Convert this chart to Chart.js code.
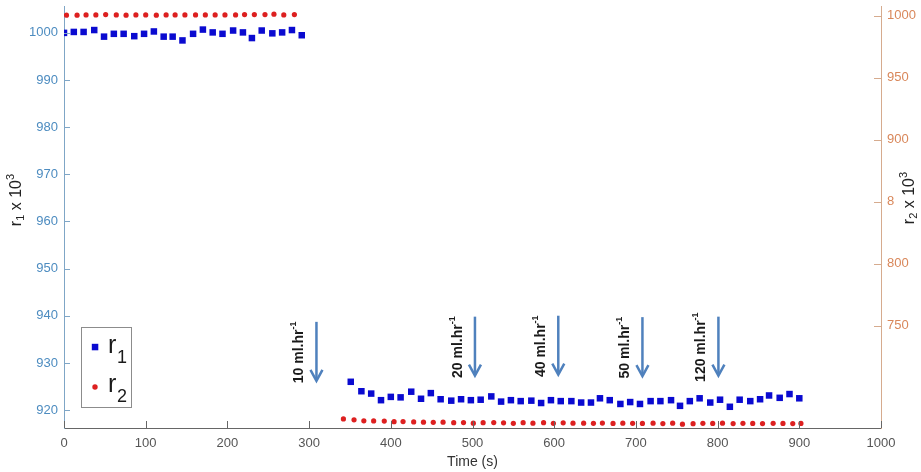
<!DOCTYPE html>
<html><head><meta charset="utf-8">
<script src="https://cdn.jsdelivr.net/npm/chart.js@4"></script>
<style>html,body{margin:0;padding:0;background:#fff;overflow:hidden}</style>
</head><body>
<canvas id="c" width="921" height="472"></canvas>
<script>
// ---- data ----
const r1TimeEarly = [0,12,24,37,49,61,73,86,98,110,122,133,145,158,170,182,194,207,219,230,242,255,267,279,291];
const r1Early = [1000.0,1000.2,1000.2,1000.6,999.2,999.8,999.8,999.3,999.8,1000.3,999.2,999.2,998.4,999.8,1000.7,1000.1,999.8,1000.5,1000.1,998.9,1000.5,999.9,1000.1,1000.6,999.5];
const r1TimeLate = [351,364,376,388,400,412,425,437,449,461,474,486,498,510,523,535,547,559,572,584,596,608,621,633,645,656,668,681,693,705,718,730,743,754,766,778,791,803,815,827,840,852,863,876,888,900];
const r1Late = [926.0,924.0,923.5,922.1,922.8,922.7,923.9,922.4,923.6,922.3,922.0,922.3,922.1,922.2,922.9,921.8,922.1,921.9,922.0,921.5,922.1,921.9,921.9,921.6,921.6,922.5,922.1,921.3,921.7,921.3,921.9,921.9,922.1,920.9,921.9,922.5,921.6,922.2,920.7,922.2,921.9,922.3,923.1,922.6,923.4,922.5];
const r2TimeEarly = [3,16,27,39,51,64,76,88,100,113,125,136,148,161,173,185,197,210,221,233,246,257,269,282];
const r2Early = [1000.3,1000.3,1000.5,1000.5,1000.8,1000.5,1000.3,1000.5,1000.5,1000.3,1000.5,1000.5,1000.5,1000.5,1000.5,1000.5,1000.5,1000.5,1000.8,1000.8,1000.8,1001.1,1000.5,1000.8];
const r2TimeLate = [342,355,367,379,392,404,415,428,440,452,464,477,489,501,513,526,538,550,562,574,587,599,611,623,636,648,659,672,684,696,708,721,733,745,757,770,782,794,806,819,831,843,855,868,880,892,902];
const r2Late = [675.0,674.3,673.5,673.4,673.3,672.8,672.9,672.6,672.4,672.3,672.4,672.0,672.1,671.6,672.0,672.1,671.9,671.5,672.0,671.6,672.0,671.5,671.9,671.6,671.6,671.5,671.7,671.4,671.6,671.5,671.4,671.6,671.3,671.6,670.8,671.2,671.5,671.4,671.6,671.3,671.5,671.4,671.3,671.5,671.4,671.3,671.4];

const xTicks = [0,100,200,300,400,500,600,700,800,900,1000];
const r1Ticks = [920,930,940,950,960,970,980,990,1000];
const r2Ticks = [750,800,850,900,950,1000];
const r2TickLabels = ['750','800','8','900','950','1000'];
const r1Range = [916.2, 1005.7];
const r2Range = [667.7, 1007.7];

const arrowTimes = [309,503,605,708,801];
const arrowTips = [926.2,927.3,927.5,927.2,927.3];
const arrowRates = ['10','20','40','50','120'];

// ---- chart ----
Chart.defaults.font.family = "'Liberation Sans', Arial, sans-serif";
const toPts = (t, v) => t.map((x, i) => ({x, y: v[i]}));

const FONT = "'Liberation Sans', Arial, sans-serif";
function rich(ctx, parts, cx, cy, rot) {
  ctx.save();
  ctx.translate(cx, cy);
  ctx.rotate(rot);
  ctx.textBaseline = 'alphabetic';
  ctx.textAlign = 'left';
  let w = 0;
  parts.forEach(p => { ctx.font = p.f; p.w = ctx.measureText(p.t).width; w += p.w; });
  let xx = -w / 2;
  parts.forEach(p => { ctx.font = p.f; ctx.fillText(p.t, xx, p.dy); xx += p.w; });
  ctx.restore();
}
function noPad(s) { s.paddingTop = 0; s.paddingBottom = 0; s.paddingLeft = 0; s.paddingRight = 0; }

const decor = {
  id: 'decor',
  afterDraw(chart) {
    const {ctx, chartArea: a, scales: {x, y, y2}} = chart;
    ctx.save();
    ctx.lineWidth = 1;
    // inward tick marks
    ctx.strokeStyle = '#666';
    xTicks.forEach(v => {
      const px = Math.round(x.getPixelForValue(v)) + 0.5;
      ctx.beginPath(); ctx.moveTo(px, a.bottom); ctx.lineTo(px, a.bottom - 7); ctx.stroke();
    });
    ctx.strokeStyle = '#7fa6c6';
    r1Ticks.forEach(v => {
      const py = Math.round(y.getPixelForValue(v)) + 0.5;
      ctx.beginPath(); ctx.moveTo(a.left, py); ctx.lineTo(a.left + 6, py); ctx.stroke();
    });
    ctx.strokeStyle = '#d6ab8e';
    r2Ticks.forEach(v => {
      const py = Math.round(y2.getPixelForValue(v)) + 0.5;
      ctx.beginPath(); ctx.moveTo(a.right, py); ctx.lineTo(a.right - 7, py); ctx.stroke();
    });

    // arrows + labels
    arrowTimes.forEach((t, i) => {
      const px = x.getPixelForValue(t);
      const tip = y.getPixelForValue(arrowTips[i]);
      const top = tip - 59;
      ctx.strokeStyle = '#4f81bd';
      ctx.lineWidth = 2.5;
      ctx.lineCap = 'butt';
      ctx.beginPath(); ctx.moveTo(px, top); ctx.lineTo(px, tip - 1); ctx.stroke();
      ctx.beginPath(); ctx.moveTo(px - 6, tip - 11); ctx.lineTo(px, tip); ctx.lineTo(px + 6, tip - 11); ctx.stroke();
      ctx.fillStyle = '#1a1a1a';
      rich(ctx, [
        {t: arrowRates[i] + ' ml.hr', f: 'bold 14px ' + FONT, dy: 0},
        {t: '-1', f: 'bold 9px ' + FONT, dy: -7}
      ], px - 13, (top + tip) / 2 + 1, -Math.PI / 2);
    });

    // legend
    ctx.lineWidth = 1;
    ctx.fillStyle = '#fff';
    ctx.fillRect(81.5, 327.5, 50, 80);
    ctx.strokeStyle = '#8c8c8c';
    ctx.strokeRect(81.5, 327.5, 50, 80);
    ctx.fillStyle = '#0a0ad0';
    ctx.fillRect(91.8, 343.8, 6.5, 6.5);
    ctx.fillStyle = '#dd2020';
    ctx.beginPath(); ctx.arc(95, 387, 2.7, 0, Math.PI * 2); ctx.fill();
    ctx.fillStyle = '#1a1a1a';
    ctx.textAlign = 'left'; ctx.textBaseline = 'alphabetic';
    ctx.font = '25px ' + FONT; ctx.fillText('r', 108, 353);
    ctx.font = '18px ' + FONT; ctx.fillText('1', 117, 363);
    ctx.font = '25px ' + FONT; ctx.fillText('r', 108, 392);
    ctx.font = '18px ' + FONT; ctx.fillText('2', 117, 402);

    // axis titles
    ctx.fillStyle = '#222';
    rich(ctx, [
      {t: 'r', f: '16px ' + FONT, dy: 0},
      {t: '1', f: '11px ' + FONT, dy: 3},
      {t: ' x 10', f: '16px ' + FONT, dy: 0},
      {t: '3', f: '11px ' + FONT, dy: -7}
    ], 21, 200, -Math.PI / 2);
    rich(ctx, [
      {t: 'r', f: '16px ' + FONT, dy: 0},
      {t: '2', f: '11px ' + FONT, dy: 3},
      {t: ' x 10', f: '16px ' + FONT, dy: 0},
      {t: '3', f: '11px ' + FONT, dy: -7}
    ], 914, 198, -Math.PI / 2);
    ctx.fillStyle = '#333';
    ctx.font = '14px ' + FONT;
    ctx.textAlign = 'center';
    ctx.fillText('Time (s)', (a.left + a.right) / 2, 466);
    ctx.restore();
  }
};

const gridOff = {display: false, drawTicks: false, tickLength: 0};

new Chart(document.getElementById('c'), {
  type: 'scatter',
  data: {
    datasets: [
      {label: 'r1', data: toPts(r1TimeEarly, r1Early).concat(toPts(r1TimeLate, r1Late)), yAxisID: 'y',
       pointStyle: 'rect', pointRadius: 4.6, backgroundColor: '#0a0ad0', borderWidth: 0},
      {label: 'r2', data: toPts(r2TimeEarly, r2Early).concat(toPts(r2TimeLate, r2Late)), yAxisID: 'y2',
       pointStyle: 'circle', pointRadius: 2.6, backgroundColor: '#dd2020', borderWidth: 0}
    ]
  },
  options: {
    responsive: false,
    animation: false,
    events: [],
    layout: {padding: {top: 6, left: 0, right: 0, bottom: 0}},
    plugins: {legend: {display: false}, tooltip: {enabled: false}},
    scales: {
      x: {
        type: 'linear', position: 'bottom', min: 0, max: 1000,
        afterBuildTicks: s => { s.ticks = xTicks.map(v => ({value: v})); },
        afterFit: s => { s.height = 44; noPad(s); },
        grid: gridOff,
        border: {display: true, color: '#666', width: 1},
        ticks: {color: '#555', font: {size: 13}, padding: 8, maxRotation: 0,
                callback: v => String(v)}
      },
      y: {
        type: 'linear', position: 'left', min: r1Range[0], max: r1Range[1],
        afterBuildTicks: s => { s.ticks = r1Ticks.map(v => ({value: v})); },
        afterFit: s => { s.width = 64; noPad(s); },
        grid: gridOff,
        border: {display: true, color: '#7fa6c6', width: 1},
        ticks: {color: '#4d8cc0', font: {size: 13}, padding: 6, callback: v => String(v)}
      },
      y2: {
        type: 'linear', position: 'right', min: r2Range[0], max: r2Range[1],
        afterBuildTicks: s => { s.ticks = r2Ticks.map(v => ({value: v})); },
        afterFit: s => { s.width = 40; noPad(s); },
        grid: gridOff,
        border: {display: true, color: '#d6ab8e', width: 1},
        ticks: {color: '#d9875a', font: {size: 13}, padding: 6,
                callback: (v) => r2TickLabels[r2Ticks.indexOf(v)] ?? ''}
      }
    }
  },
  plugins: [decor]
});
</script>
</body></html>
